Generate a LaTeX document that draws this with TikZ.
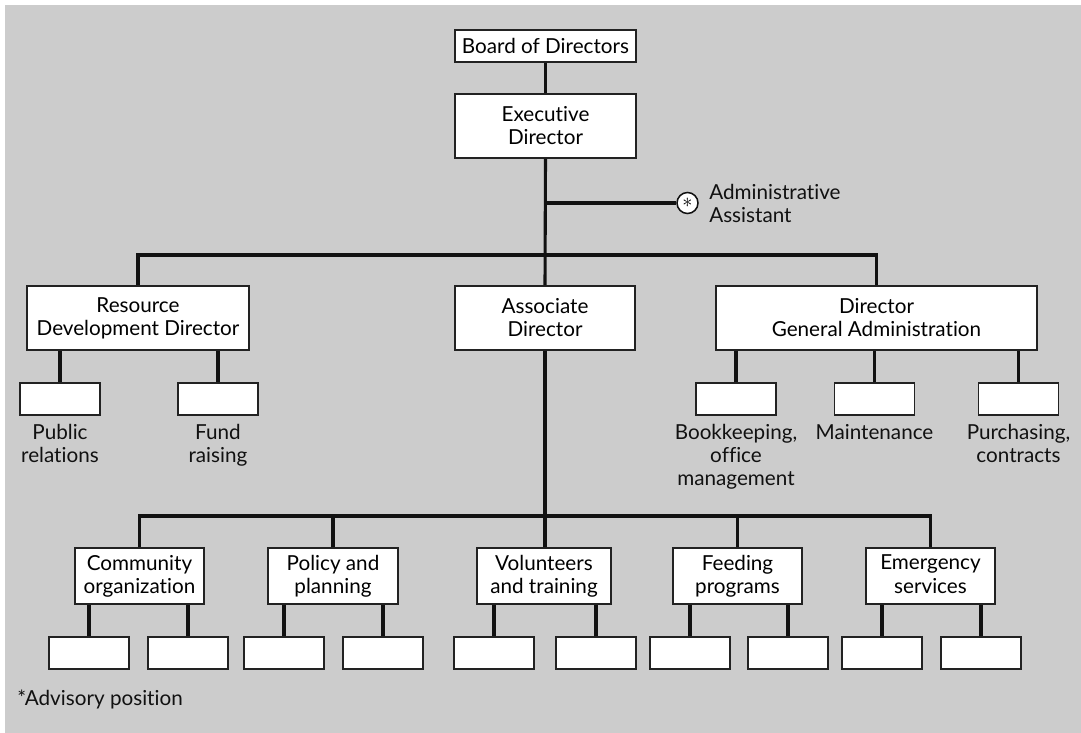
\documentclass[tikz,border=0pt]{standalone}
\usepackage{fontspec}
\setmainfont{Lato}[Ligatures=NoCommon]
\usetikzlibrary{positioning,calc}
\definecolor{panelgray}{HTML}{CCCCCC}
\definecolor{ink}{HTML}{111111}
\definecolor{boxline}{HTML}{222222}
\newcommand{\px}{0.25mm}
\newcommand{\orgfont}{\fontsize{14.7}{16.4}\selectfont}
\tikzset{
  posbox/.style={draw=boxline,fill=white,line width=1.1pt,align=center,
                 inner sep=0pt,font=\orgfont},
  blankbox/.style={draw=boxline,fill=white,line width=1.1pt,inner sep=0pt,
                   minimum width=80*\px,minimum height=32*\px},
  conn/.style={draw=ink,line width=2.2pt},
  lbl/.style={align=center,inner sep=0pt,font=\orgfont,text=ink}
}
\begin{document}
\begin{tikzpicture}[x=\px,y=-\px]
  \path[use as bounding box] (0,0) rectangle (1081,733);
  \fill[panelgray] (5,5) rectangle (1081,733);

  % top of the chart
  \node[posbox,minimum width=181*\px,minimum height=32*\px] (board)
    at (545.5,46) {Board of Directors};
  \node[posbox,minimum width=181*\px,minimum height=64*\px] (exec)
    at (545.5,126) {Executive\\Director};
  \node[draw=ink,fill=white,circle,line width=1.1pt,minimum size=21*\px,
        inner sep=0pt,font=\orgfont] (asst) at (687.5,203) {\(\ast\)};
  \node[lbl,anchor=west,align=left] (asstlbl) at (709,203)
    {Administrative\\Assistant};

  % directors
  \node[posbox,minimum width=222*\px,minimum height=64*\px] (rdd)
    at (138,318) {Resource\\Development Director};
  \node[posbox,minimum width=180*\px,minimum height=64*\px] (assoc)
    at (545,318) {Associate\\Director};
  \node[posbox,minimum width=321*\px,minimum height=64*\px] (dga)
    at (876.5,318) {Director\\General Administration};
  \coordinate (bus1) at (544,255);

  \draw[conn] (board) -- (exec);
  \draw[conn] (exec.south) -- (assoc.north);
  \draw[conn] (exec.south |- asst) -- (asst);
  \draw[conn] (rdd.north) |- (bus1) -| (dga.north);

  % resource development units
  \node[blankbox] (pubrel) at (60,399) {};
  \node[blankbox] (fund) at (218,399) {};
  \node[lbl,anchor=north] (pubrellbl) at ([yshift=-6pt]pubrel.south)
    {Public\\relations};
  \node[lbl,anchor=north] (fundlbl) at ([yshift=-6pt]fund.south)
    {Fund\\raising};
  \foreach \u in {pubrel,fund}
    \draw[conn] (\u.north) -- (\u.north |- rdd.south);

  % general administration units
  \node[blankbox] (books) at (736,399) {};
  \node[blankbox] (maint) at (874.5,399) {};
  \node[blankbox] (purch) at (1018.5,399) {};
  \node[lbl,anchor=north] (bookslbl) at ([yshift=-6pt]books.south)
    {Bookkeeping,\\office\\management};
  \node[lbl,anchor=north] (maintlbl) at ([yshift=-6pt]maint.south)
    {Maintenance};
  \node[lbl,anchor=north] (purchlbl) at ([yshift=-6pt]purch.south)
    {Purchasing,\\contracts};
  \foreach \u in {books,maint,purch}
    \draw[conn] (\u.north) -- (\u.north |- dga.south);

  % program areas
  \node[posbox,minimum width=129*\px,minimum height=56*\px] (comm)
    at (139.5,576) {Community\\organization};
  \node[posbox,minimum width=130*\px,minimum height=56*\px] (policy)
    at (333,576) {Policy and\\planning};
  \node[posbox,minimum width=134*\px,minimum height=56*\px] (volun)
    at (544,576) {Volunteers\\and training};
  \node[posbox,minimum width=129*\px,minimum height=56*\px] (feed)
    at (737.5,576) {Feeding\\programs};
  \node[posbox,minimum width=129*\px,minimum height=56*\px] (emerg)
    at (930.5,576) {Emergency\\services\vphantom{g}};
  \coordinate (bus2) at (543,516);

  \draw[conn] (assoc.south) -- (assoc.south |- volun.north);
  \draw[conn] (comm.north) |- (bus2) -| (emerg.north);
  \foreach \p in {policy,feed}
    \draw[conn] (\p.north) -- (\p.north |- bus2);

  % blank units under each program area
  \foreach \p/\a/\b in {comm/89/188,policy/284/383,volun/494/596,
                        feed/690/788,emerg/882/981}{
    \node[blankbox] (\p-l) at (\a,653) {};
    \node[blankbox] (\p-r) at (\b,653) {};
    \draw[conn] (\p-l.north) -- (\p-l.north |- \p.south);
    \draw[conn] (\p-r.north) -- (\p-r.north |- \p.south);
  }

  \node[lbl,anchor=west] (note) at (17,699) {*Advisory position};
\end{tikzpicture}
\end{document}
